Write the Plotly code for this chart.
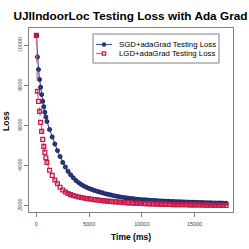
import plotly.graph_objects as go

time_ms = [0, 100, 200, 300, 400, 500, 600, 700, 800, 900, 1000,
           1250, 1500, 1750, 2000, 2250, 2500, 2750, 3000, 3250, 3500, 3750, 4000,
           4250, 4500, 4750, 5000, 5250, 5500, 5750, 6000, 6250, 6500, 6750, 7000,
           7250, 7500, 7750, 8000, 8250, 8500, 8750, 9000, 9250, 9500, 9750, 10000,
           10250, 10500, 10750, 11000, 11250, 11500, 11750, 12000, 12250, 12500, 12750, 13000,
           13250, 13500, 13750, 14000, 14250, 14500, 14750, 15000, 15250, 15500, 15750, 16000,
           16250, 16500, 16750, 17000, 17250, 17500, 17750, 18000]

sgd_loss = [10500, 9420, 8800, 8300, 7910, 7540, 7210, 6930, 6660, 6420, 6200,
            5800, 5420, 5070, 4740, 4440, 4150, 3920, 3710, 3530, 3380, 3250, 3140,
            3050, 2970, 2910, 2850, 2800, 2750, 2710, 2670, 2630, 2590, 2560, 2530,
            2500, 2470, 2445, 2420, 2400, 2380, 2360, 2345, 2330, 2315, 2300, 2290,
            2280, 2270, 2260, 2250, 2242, 2235, 2228, 2220, 2214, 2208, 2202, 2196,
            2190, 2185, 2180, 2175, 2170, 2165, 2160, 2155, 2150, 2146, 2142, 2138,
            2134, 2130, 2127, 2124, 2121, 2118, 2115, 2112]

lgd_loss = [10500, 7710, 7200, 6700, 6150, 5700, 5300, 4950, 4650, 4380, 4150,
            3760, 3500, 3270, 3080, 2910, 2770, 2670, 2595, 2540, 2495, 2455, 2420,
            2395, 2370, 2345, 2325, 2305, 2290, 2275, 2255, 2240, 2228, 2215, 2200,
            2188, 2178, 2168, 2158, 2148, 2138, 2128, 2120, 2113, 2106, 2100, 2094,
            2088, 2082, 2077, 2072, 2067, 2062, 2057, 2053, 2050, 2047, 2044, 2041,
            2038, 2035, 2033, 2031, 2029, 2027, 2025, 2023, 2021, 2019, 2017, 2015,
            2013, 2011, 2009, 2007, 2005, 2003, 2001, 1999]

series_names = ["SGD+adaGrad Testing Loss", "LGD+adaGrad Testing Loss"]
x_ticks = [0, 5000, 10000, 15000]
y_ticks = [2000, 4000, 6000, 8000, 10000]

FONT = "Liberation Sans, Arial, sans-serif"
BLUE_LINE, BLUE_MK = "#4a5a94", "#1c2c68"
RED_LINE, RED_MK = "#e05a80", "#c8184a"

# plot area in pixels
L, R, T, B = 29, 233, 28, 212
W, H = R - L, B - T


def px(xp):
    return (xp - L) / W


def py(yp):
    return (B - yp) / H


fig = go.Figure()
fig.add_trace(go.Scatter(
    x=time_ms, y=sgd_loss, name=series_names[0],
    mode="lines+markers",
    line=dict(color=BLUE_LINE, width=1.2),
    marker=dict(symbol="circle", size=3.6, color="#2e407f",
                line=dict(color=BLUE_MK, width=1.3)),
))
fig.add_trace(go.Scatter(
    x=time_ms, y=lgd_loss, name=series_names[1],
    mode="lines+markers",
    line=dict(color=RED_LINE, width=1.2, dash="dash"),
    marker=dict(symbol="square-open", size=3.8, color=RED_MK,
                line=dict(color=RED_MK, width=1.3)),
))

axis_common = dict(
    showline=True, mirror=True, linecolor="#808080", linewidth=1,
    ticks="outside", ticklen=4, tickcolor="#808080", tickwidth=1,
    showgrid=False, zeroline=False, automargin=False,
    tickfont=dict(family=FONT, size=5.5, color="#444444"),
)

fig.update_xaxes(range=[-700, 18650], tickvals=x_ticks,
                 ticktext=[str(v) for v in x_ticks], ticklabelstandoff=2,
                 **axis_common)
fig.update_yaxes(range=[1670, 10870], tickvals=y_ticks,
                 ticktext=[str(v) for v in y_ticks], tickangle=-90,
                 ticklabelstandoff=0, **axis_common)

# manual legend (R-style compact box)
shapes = [
    dict(type="rect", xref="paper", yref="paper",
         x0=px(93), x1=px(219), y0=py(63), y1=py(34),
         line=dict(color="#808080", width=1), fillcolor="white", layer="above"),
    dict(type="line", xref="paper", yref="paper",
         x0=px(96), x1=px(112), y0=py(44.5), y1=py(44.5),
         line=dict(color=BLUE_LINE, width=1.2), layer="above"),
    dict(type="circle", xref="paper", yref="paper",
         x0=px(102.4), x1=px(105.6), y0=py(46.1), y1=py(42.9),
         line=dict(color=BLUE_MK, width=1.2), fillcolor="#2e407f", layer="above"),
    dict(type="line", xref="paper", yref="paper",
         x0=px(96), x1=px(112), y0=py(53.5), y1=py(53.5),
         line=dict(color=RED_LINE, width=1.2, dash="dash"), layer="above"),
    dict(type="rect", xref="paper", yref="paper",
         x0=px(102.3), x1=px(105.7), y0=py(55.2), y1=py(51.8),
         line=dict(color=RED_MK, width=1.2), fillcolor="white", layer="above"),
]

annotations = [
    dict(text="<b>Time (ms)</b>", xref="paper", yref="paper",
         x=0.5, y=-(236.5 - B) / H, xanchor="center", yanchor="middle",
         showarrow=False, font=dict(family=FONT, size=8.5, color="#000000")),
    dict(text="<b>Loss</b>", xref="paper", yref="paper", textangle=-90,
         x=-(L - 6) / W, y=(B - 121) / H, xanchor="center", yanchor="middle",
         showarrow=False, font=dict(family=FONT, size=8.5, color="#000000")),
]
for name, yrow in zip(series_names, [44.5, 53.5]):
    annotations.append(dict(
        text=name, xref="paper", yref="paper", x=px(116.5), y=py(yrow),
        xanchor="left", yanchor="middle", showarrow=False,
        font=dict(family=FONT, size=7.8, color="#000000")))

fig.update_layout(
    width=249, height=249,
    margin=dict(l=L, r=249 - R, t=T, b=249 - B, autoexpand=False),
    paper_bgcolor="white", plot_bgcolor="white",
    font=dict(family=FONT, color="#000000"),
    showlegend=False,
    title=dict(text="<b>UJIIndoorLoc Testing Loss with Ada Grad</b>",
               font=dict(family=FONT, size=11.8, color="#000000"),
               x=130.5 / 249, xanchor="center", xref="container",
               y=1 - 15.5 / 249, yanchor="middle", yref="container"),
    shapes=shapes,
    annotations=annotations,
)

fig.write_html("out.html", config={"displayModeBar": False},
               post_script="document.body.style.margin='0';document.body.style.overflow='hidden';")
